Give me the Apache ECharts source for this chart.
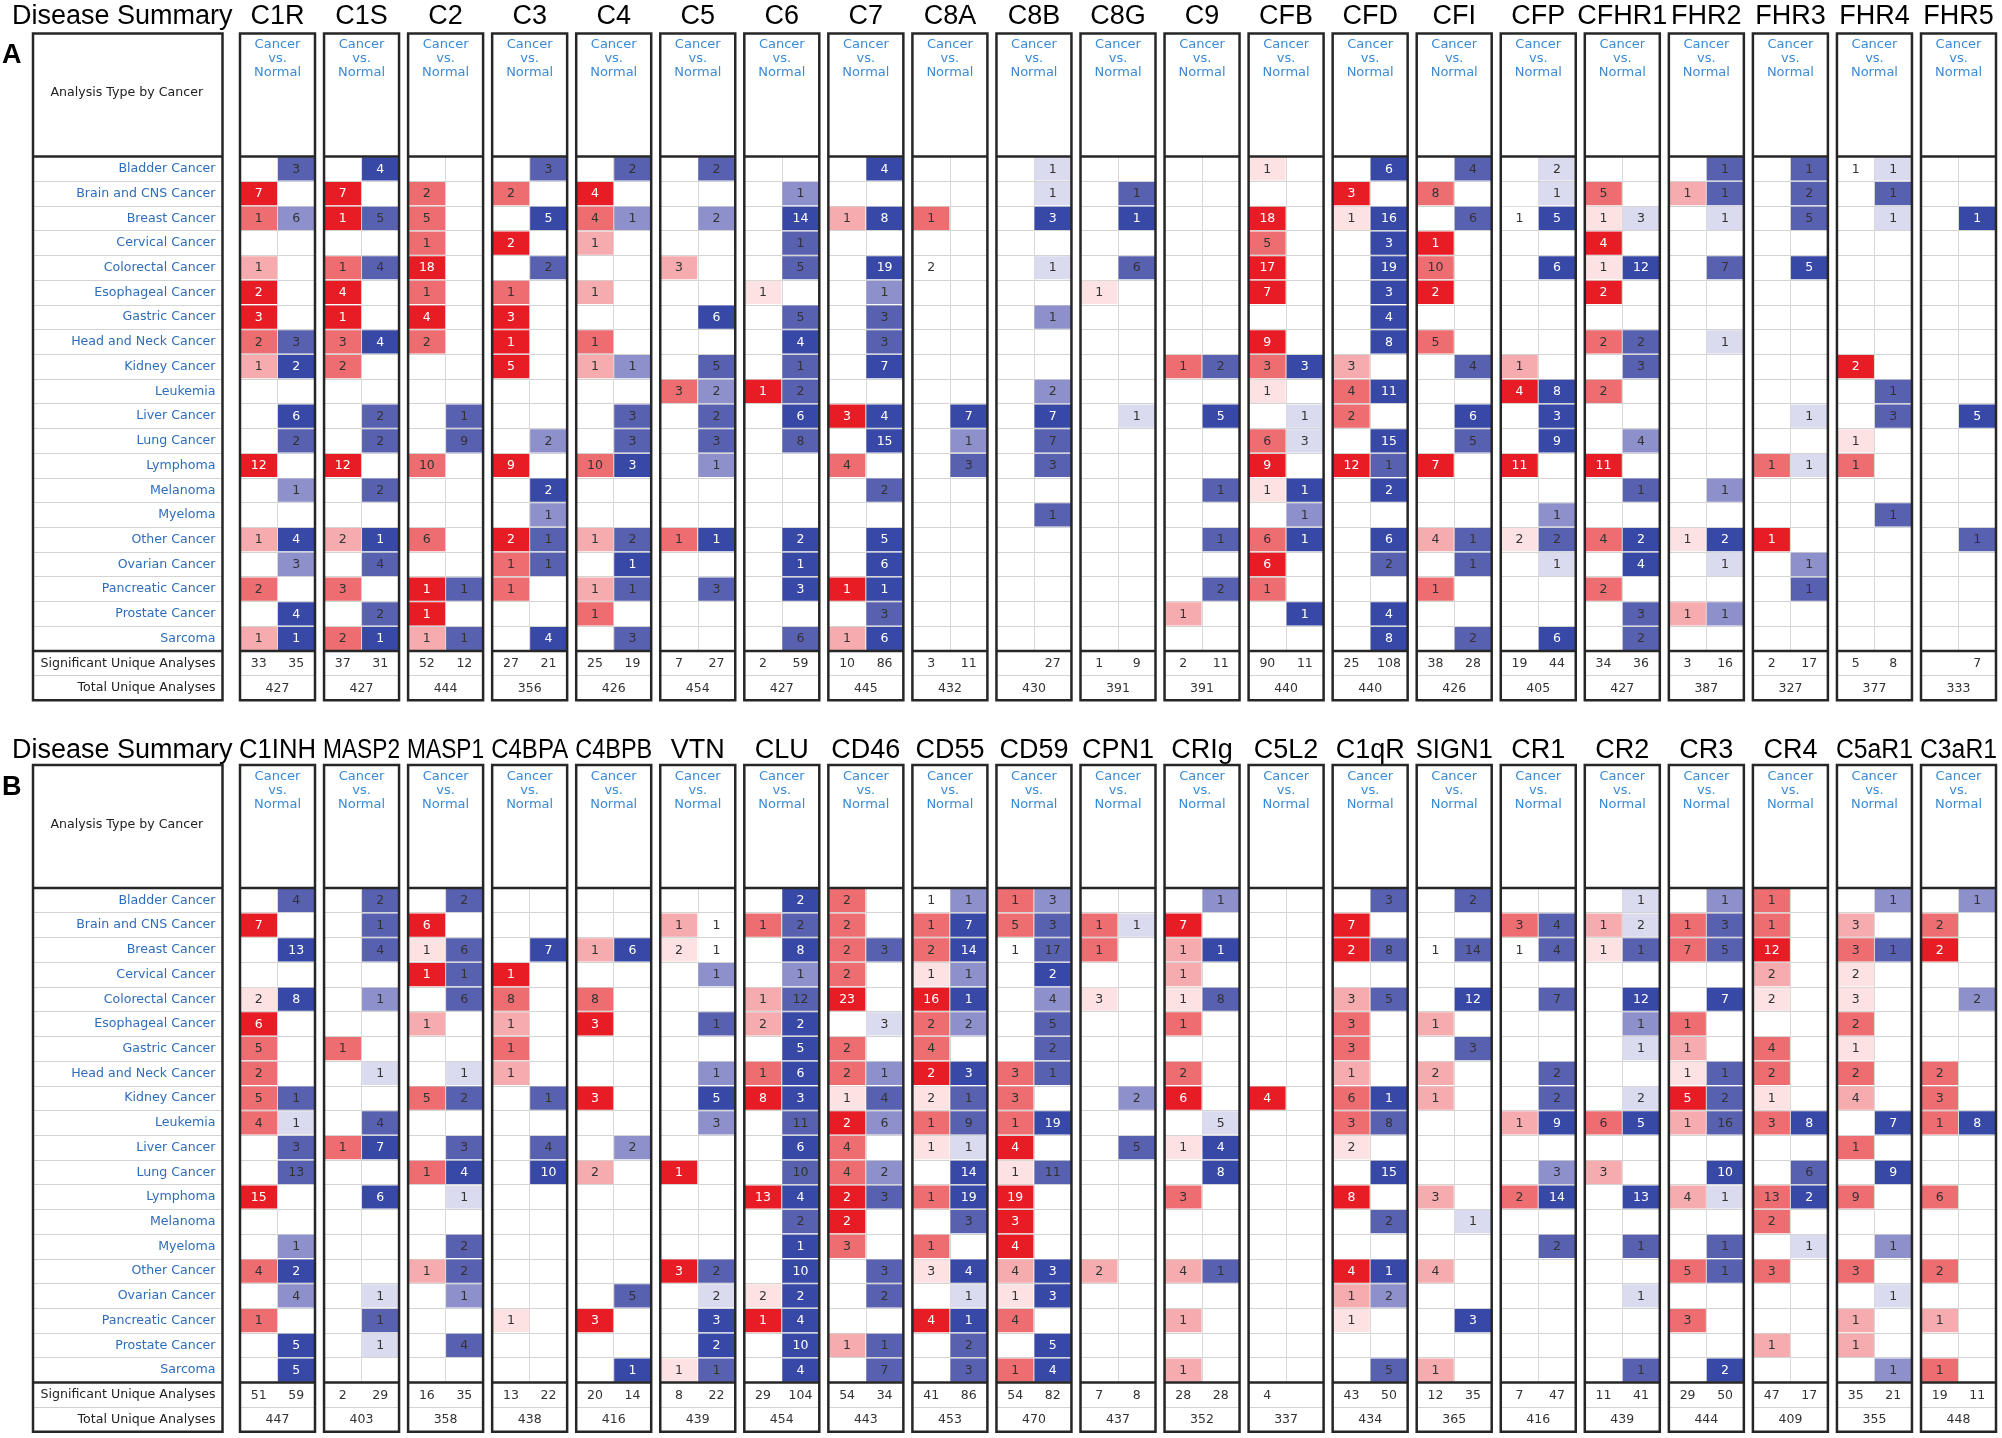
<!DOCTYPE html>
<html>
<head>
<meta charset="utf-8">
<title>Disease Summary</title>
<script src="https://cdn.jsdelivr.net/npm/echarts@6/dist/echarts.min.js"></script>
<style>
html, body { margin: 0; padding: 0; background: #fff; }
#chart { width: 2002px; height: 1438px; }
</style>
</head>
<body>
<div id="chart"></div>
<script>
// rows of both panels
var cancers = ['Bladder Cancer', 'Brain and CNS Cancer', 'Breast Cancer', 'Cervical Cancer', 'Colorectal Cancer',
    'Esophageal Cancer', 'Gastric Cancer', 'Head and Neck Cancer', 'Kidney Cancer', 'Leukemia',
    'Liver Cancer', 'Lung Cancer', 'Lymphoma', 'Melanoma', 'Myeloma',
    'Other Cancer', 'Ovarian Cancer', 'Pancreatic Cancer', 'Prostate Cancer', 'Sarcoma'];
var footerRows = ['Significant Unique Analyses', 'Total Unique Analyses'];

// cell tokens: "count:shade" (shade 0..4, 4 = strongest), "." = no analysis
//region panel A
var genesA = ['C1R', 'C1S', 'C2', 'C3', 'C4', 'C5', 'C6', 'C7', 'C8A', 'C8B', 'C8G',
    'C9', 'CFB', 'CFD', 'CFI', 'CFP', 'CFHR1', 'FHR2', 'FHR3', 'FHR4', 'FHR5'];
var upA = [
    '. 7:4 1:3 . 1:2 | 2:4 3:4 2:3 1:2 . | . . 12:4 . . | 1:2 . 2:3 . 1:2',
    '. 7:4 1:4 . 1:3 | 4:4 1:4 3:3 2:3 . | . . 12:4 . . | 2:2 . 3:3 . 2:3',
    '. 2:3 5:3 1:3 18:4 | 1:3 4:4 2:3 . . | . . 10:3 . . | 6:3 . 1:4 1:4 1:2',
    '. 2:3 . 2:4 . | 1:3 3:4 1:4 5:4 . | . . 9:4 . . | 2:4 1:3 1:3 . .',
    '. 4:4 4:3 1:2 . | 1:2 . 1:3 1:2 . | . . 10:3 . . | 1:2 . 1:2 1:3 .',
    '. . . . 3:2 | . . . . 3:3 | . . . . . | 1:3 . . . .',
    '. . . . . | 1:1 . . . 1:4 | . . . . . | . . . . .',
    '. . 1:2 . . | . . . . . | 3:4 . 4:3 . . | . . 1:4 . 1:2',
    '. . 1:3 . 2:0 | . . . . . | . . . . . | . . . . .',
    '. . . . . | . . . . . | . . . . . | . . . . .',
    '. . . . . | 1:1 . . . . | . . . . . | . . . . .',
    '. . . . . | . . . 1:3 . | . . . . . | . . . 1:2 .',
    '1:1 . 18:4 5:3 17:4 | 7:4 . 9:4 3:3 1:1 | . 6:3 9:4 1:1 . | 6:3 6:4 1:3 . .',
    '. 3:4 1:1 . . | . . . 3:2 4:3 | 2:3 . 12:4 . . | . . . . .',
    '. 8:3 . 1:4 10:3 | 2:4 . 5:3 . . | . . 7:4 . . | 4:2 . 1:3 . .',
    '. . 1:0 . . | . . . 1:2 4:4 | . . 11:4 . . | 2:1 . . . .',
    '. 5:3 1:1 4:4 1:1 | 2:4 . 2:3 . 2:3 | . . 11:4 . . | 4:3 . 2:3 . .',
    '. 1:2 . . . | . . . . . | . . . . . | 1:1 . . 1:2 .',
    '. . . . . | . . . . . | . . 1:3 . . | 1:4 . . . .',
    '1:0 . . . . | . . . 2:4 . | . 1:1 1:3 . . | . . . . .',
    '. . . . . | . . . . . | . . . . . | . . . . .'
];
var downA = [
    '3:3 . 6:2 . . | . . 3:3 2:4 . | 6:4 2:3 . 1:2 . | 4:4 3:2 . 4:4 1:4',
    '4:4 . 5:3 . 4:3 | . . 4:4 . . | 2:3 2:3 . 2:3 . | 1:4 4:3 . 2:3 1:4',
    '. . . . . | . . . . . | 1:3 9:3 . . . | . . 1:3 . 1:3',
    '3:3 . 5:4 . 2:3 | . . . . . | . 2:2 . 2:4 1:2 | 1:3 1:3 . . 4:4',
    '2:3 . 1:2 . . | . . . 1:2 . | 3:3 3:3 3:4 . . | 2:3 1:4 1:3 . 3:3',
    '2:3 . 2:2 . . | . 6:4 . 5:3 2:2 | 2:3 3:3 1:2 . . | 1:4 . 3:3 . .',
    '. 1:2 14:4 1:3 5:3 | . 5:3 4:4 1:3 2:3 | 6:4 8:3 . . . | 2:4 1:4 3:4 . 6:3',
    '4:4 . 8:4 . 19:4 | 1:2 3:3 3:3 7:4 . | 4:4 15:4 . 2:3 . | 5:4 6:4 1:4 3:3 6:4',
    '. . . . . | . . . . . | 7:4 1:2 3:3 . . | . . . . .',
    '1:1 1:1 3:4 . 1:1 | . 1:2 . . 2:2 | 7:4 7:3 3:3 . 1:3 | . . . . .',
    '. 1:3 1:4 . 6:3 | . . . . . | 1:1 . . . . | . . . . .',
    '. . . . . | . . . 2:3 . | 5:4 . . 1:3 . | 1:3 . 2:3 . .',
    '. . . . . | . . . 3:4 . | 1:1 3:1 . 1:4 1:2 | 1:4 . . 1:4 .',
    '6:4 . 16:4 3:4 19:4 | 3:4 4:4 8:4 . 11:4 | . 15:4 1:3 2:4 . | 6:4 2:3 . 4:4 8:4',
    '4:3 . 6:3 . . | . . . 4:3 . | 6:4 5:3 . . . | 1:3 1:3 . . 2:3',
    '2:1 1:1 5:4 . 6:4 | . . . . 8:4 | 3:4 9:4 . . 1:2 | 2:3 1:1 . . 6:4',
    '. . 3:1 . 12:4 | . . 2:3 3:3 . | . 4:2 . 1:3 . | 2:4 4:4 . 3:3 2:3',
    '1:3 1:3 1:1 . 7:3 | . . 1:1 . . | . . . 1:2 . | 2:4 1:1 . 1:2 .',
    '1:3 2:3 5:3 . 5:4 | . . . . . | 1:1 . 1:1 . . | . 1:2 1:3 . .',
    '1:1 1:3 1:1 . . | . . . . 1:3 | 3:3 . . . 1:3 | . . . . .',
    '. . 1:4 . . | . . . . . | 5:4 . . . . | 1:3 . . . .'
];
var sigUpA = [33, 37, 52, 27, 25, 7, 2, 10, 3, '', 1, 2, 90, 25, 38, 19, 34, 3, 2, 5, ''];
var sigDownA = [35, 31, 12, 21, 19, 27, 59, 86, 11, 27, 9, 11, 11, 108, 28, 44, 36, 16, 17, 8, 7];
var totalA = [427, 427, 444, 356, 426, 454, 427, 445, 432, 430, 391, 391, 440, 440, 426, 405, 427, 387, 327, 377, 333];
//endregion

//region panel B
var genesB = ['C1INH', 'MASP2', 'MASP1', 'C4BPA', 'C4BPB', 'VTN', 'CLU', 'CD46', 'CD55', 'CD59', 'CPN1',
    'CRIg', 'C5L2', 'C1qR', 'SIGN1', 'CR1', 'CR2', 'CR3', 'CR4', 'C5aR1', 'C3aR1'];
var upB = [
    '. 7:4 . . 2:1 | 6:4 5:3 2:3 5:3 4:3 | . . 15:4 . . | 4:3 . 1:3 . .',
    '. . . . . | . 1:3 . . . | 1:3 . . . . | . . . . .',
    '. 6:4 1:1 1:4 . | 1:2 . . 5:3 . | . 1:3 . . . | 1:2 . . . .',
    '. . . 1:4 8:3 | 1:2 1:3 1:2 . . | . . . . . | . . 1:1 . .',
    '. . 1:2 . 8:3 | 3:4 . . 3:4 . | . 2:2 . . . | . . 3:4 . .',
    '. 1:2 2:1 . . | . . . . . | . 1:4 . . . | 3:4 . . . 1:1',
    '. 1:3 . . 1:2 | 2:2 . 1:3 8:4 . | . . 13:4 . . | . 2:1 1:4 . .',
    '2:3 2:3 2:3 2:3 23:4 | . 2:3 2:3 1:1 2:4 | 4:3 4:3 2:4 2:4 3:3 | . . . 1:2 .',
    '1:0 1:3 2:3 1:1 16:4 | 2:3 4:3 2:4 2:1 1:3 | 1:1 . 1:3 . 1:3 | 3:1 . 4:4 . .',
    '1:3 5:3 1:0 . . | . . 3:3 3:3 1:3 | 4:4 1:1 19:4 3:4 4:4 | 4:2 1:1 4:3 . 1:3',
    '. 1:3 1:3 . 3:1 | . . . . . | . . . . . | 2:2 . . . .',
    '. 7:4 1:2 1:2 1:1 | 1:3 . 2:3 6:4 . | 1:1 . 3:3 . . | 4:2 . 1:2 . 1:2',
    '. . . . . | . . . 4:4 . | . . . . . | . . . . .',
    '. 7:4 2:4 . 3:2 | 3:3 3:3 1:2 6:3 3:3 | 2:1 . 8:4 . . | 4:4 1:2 1:1 . .',
    '. . 1:0 . . | 1:2 . 2:2 1:2 . | . . 3:2 . . | 4:2 . . . 1:2',
    '. 3:3 1:0 . . | . . . . 1:2 | . . 2:3 . . | . . . . .',
    '. 1:2 1:1 . . | . . . . 6:3 | . 3:2 . . . | . . . . .',
    '. 1:3 7:3 . . | 1:3 1:2 1:1 5:4 1:2 | . . 4:2 . . | 5:3 . 3:3 . .',
    '1:3 1:3 12:4 2:2 2:1 | . 4:3 2:3 1:1 3:3 | . . 13:3 2:3 . | 3:3 . . 1:2 .',
    '. 3:2 3:3 2:1 3:1 | 2:3 1:1 2:3 4:2 . | 1:3 . 9:3 . . | 3:3 . 1:2 1:2 .',
    '. 2:3 2:4 . . | . . 2:3 3:3 1:3 | . . 6:3 . . | 2:3 . 1:2 . 1:3'
];
var downB = [
    '4:3 . 13:4 . 8:4 | . . . 1:3 1:1 | 3:3 13:3 . . 1:2 | 2:4 4:2 . 5:4 5:4',
    '2:3 1:3 4:3 . 1:2 | . . 1:1 . 4:3 | 7:4 . 6:4 . . | . 1:1 1:3 1:1 .',
    '2:3 . 6:3 1:3 6:3 | . . 1:1 2:3 . | 3:3 4:4 1:1 . 2:3 | 2:3 1:2 . 4:3 .',
    '. . 7:4 . . | . . . 1:3 . | 4:3 10:4 . . . | . . . . .',
    '. . 6:4 . . | . . . . . | 2:2 . . . . | . 5:3 . . 1:4',
    '. 1:0 1:0 1:2 . | 1:3 . 1:2 5:4 3:2 | . . . . . | 2:3 2:1 3:4 2:4 1:3',
    '2:4 2:3 8:4 1:2 12:3 | 2:4 5:4 6:4 3:4 11:3 | 6:4 10:3 4:4 2:3 1:4 | 10:4 2:4 4:4 10:4 4:4',
    '. . 3:3 . . | 3:1 . 1:2 4:3 6:2 | . 2:2 3:3 . . | 3:3 2:3 . 1:3 7:3',
    '1:2 7:4 14:4 1:2 1:4 | 2:2 . 3:4 1:3 9:3 | 1:1 14:4 19:4 3:3 . | 4:4 1:1 1:4 2:3 3:3',
    '3:2 3:3 17:3 2:4 4:2 | 5:3 2:3 1:3 . 19:4 | . 11:3 . . . | 3:4 3:4 . 5:4 4:4',
    '. 1:1 . . . | . . . 2:2 . | 5:3 . . . . | . . . . .',
    '1:2 . 1:4 . 8:3 | . . . . 5:1 | 4:4 8:4 . . . | 1:3 . . . .',
    '. . . . . | . . . . . | . . . . . | . . . . .',
    '3:3 . 8:3 . 5:3 | . . . 1:4 8:3 | . 15:4 . 2:3 . | 1:4 2:2 . . 5:3',
    '2:3 . 14:3 . 12:4 | . 3:3 . . . | . . . 1:1 . | . . 3:4 . .',
    '. 4:3 4:3 . 7:3 | . . 2:3 2:3 9:4 | . 3:2 14:4 . 2:3 | . . . . .',
    '1:1 2:1 1:3 . 12:4 | 1:2 1:1 . 2:1 5:4 | . . 13:4 . 1:3 | . 1:1 . . 1:3',
    '1:2 3:3 5:3 . 7:4 | . . 1:3 2:3 16:3 | . 10:4 1:1 . 1:3 | 1:3 . . . 2:4',
    '. . . . . | . . . . 8:4 | . 6:3 2:4 . 1:1 | . . . . .',
    '1:2 . 1:3 . . | . . . . 7:4 | . 9:4 . . 1:2 | . 1:1 . . 1:2',
    '1:2 . . . 2:2 | . . . . 8:4 | . . . . . | . . . . .'
];
var sigUpB = [51, 2, 16, 13, 20, 8, 29, 54, 41, 54, 7, 28, 4, 43, 12, 7, 11, 29, 47, 35, 19];
var sigDownB = [59, 29, 35, 22, 14, 22, 104, 34, 86, 82, 8, 28, '', 50, 35, 47, 41, 50, 17, 21, 11];
var totalB = [447, 403, 358, 438, 416, 439, 454, 443, 453, 470, 437, 352, 337, 434, 365, 416, 439, 444, 409, 355, 448];
//endregion

// layout
var LEFT0 = 240, PITCH = 84.05, COLW = 75;
var LABEL_L = 33, LABEL_W = 189.5;
var HEAD_T = 33.5, HEAD_B = 156.5, ROW_H = 24.72;
var PANEL_DY = [0, 731.5];
var TITLE_Y = [16.5, 750.5];
var NAME_FIT = [90, 77];

var redShade = ['#ffffff', '#fce2e2', '#f6acae', '#ee6d70', '#e81c25'];
var blueShade = ['#ffffff', '#dadbef', '#8d90ca', '#5860b0', '#3748a6'];
var TXT = '"DejaVu Sans", sans-serif';
var TITLE_FONT = '"Liberation Sans", Arial, sans-serif';
var BORDER = '#262626';

function tokens(s) {
    return s.split(/\s+/).filter(function (t) { return t && t !== '|'; });
}

function cellData(up, down) {
    var out = [];
    [up, down].forEach(function (s, side) {
        tokens(s).forEach(function (t, row) {
            if (t === '.') return;
            var p = t.split(':');
            out.push([side, row, +p[0], +p[1]]);
        });
    });
    return out;
}

function renderCell(params, api) {
    var side = api.value(0), row = api.value(1), n = api.value(2), shade = api.value(3);
    var a = api.coord([side, row]);
    var b = api.coord([side + 1, row]);
    var h = api.size([1, 1])[1];
    var fill = (side === 0 ? redShade : blueShade)[shade];
    return {
        type: 'group',
        children: [{
            type: 'rect',
            shape: { x: a[0] + 0.5, y: a[1] - h / 2 + 0.75, width: b[0] - a[0] - 1, height: h - 1.5 },
            style: { fill: fill }
        }, {
            type: 'text',
            style: {
                x: (a[0] + b[0]) / 2, y: a[1] + 0.5, text: String(n),
                align: 'center', verticalAlign: 'middle', textAlign: 'center', textVerticalAlign: 'middle',
                fill: shade === 4 ? '#ffffff' : '#333333', font: '12.5px ' + TXT
            }
        }]
    };
}

function renderFoot(params, api) {
    var p = api.coord([api.value(0), api.value(1)]);
    return {
        type: 'text',
        style: {
            x: p[0], y: p[1] + 0.5, text: String(api.value(2)),
            align: 'center', verticalAlign: 'middle', textAlign: 'center', textVerticalAlign: 'middle',
            fill: '#333333', font: '12.5px ' + TXT
        }
    };
}

var measureCtx = document.createElement('canvas').getContext('2d');
measureCtx.font = '27px ' + TITLE_FONT;

var grids = [], xAxes = [], yAxes = [], series = [], graphics = [];

function hiddenCategory(gi, data, split) {
    return {
        gridIndex: gi, type: 'category', data: data, inverse: true,
        axisLine: { show: false }, axisTick: { show: false }, axisLabel: { show: false },
        splitLine: { show: split, interval: 0, lineStyle: { color: '#d3d3d3', width: 1 } }
    };
}

function boxGraphics(left, width, dy) {
    var top = dy + HEAD_T, bottom = dy + HEAD_B + 22 * ROW_H;
    graphics.push({
        type: 'rect', z: 100, silent: true,
        shape: { x: left, y: top, width: width, height: bottom - top },
        style: { fill: 'none', stroke: BORDER, lineWidth: 2.5 }
    });
    [HEAD_B, HEAD_B + 20 * ROW_H].forEach(function (yy) {
        graphics.push({
            type: 'line', z: 100, silent: true,
            shape: { x1: left, y1: dy + yy, x2: left + width, y2: dy + yy },
            style: { stroke: BORDER, lineWidth: 2.5 }
        });
    });
}

function addPanel(p, genes, up, down, sigUp, sigDown, total) {
    var dy = PANEL_DY[p];

    graphics.push({
        type: 'text', x: 2, y: dy + 56,
        style: { text: p === 0 ? 'A' : 'B', font: 'bold 27px ' + TITLE_FONT, fill: '#000',
            align: 'left', verticalAlign: 'middle', textAlign: 'left', textVerticalAlign: 'middle' }
    });
    graphics.push({
        type: 'text', x: 12, y: TITLE_Y[p],
        style: { text: 'Disease Summary', font: '27px ' + TITLE_FONT, fill: '#000',
            align: 'left', verticalAlign: 'middle', textAlign: 'left', textVerticalAlign: 'middle' }
    });

    // label column
    var gi = grids.length;
    grids.push({ left: LABEL_L, top: dy + HEAD_B, width: LABEL_W, height: 20 * ROW_H, outerBoundsMode: 'none' });
    xAxes.push({ gridIndex: gi, type: 'value', show: false, min: 0, max: 1 });
    yAxes.push({
        gridIndex: gi, type: 'category', data: cancers, inverse: true, position: 'right',
        axisLine: { show: false }, axisTick: { show: false },
        axisLabel: { inside: true, margin: 7, color: '#2f6dbb', fontSize: 12.6, fontFamily: TXT },
        splitLine: { show: true, interval: 0, lineStyle: { color: '#d3d3d3' } }
    });
    gi = grids.length;
    grids.push({ left: LABEL_L, top: dy + HEAD_B + 20 * ROW_H, width: LABEL_W, height: 2 * ROW_H, outerBoundsMode: 'none' });
    xAxes.push({ gridIndex: gi, type: 'value', show: false, min: 0, max: 1 });
    yAxes.push({
        gridIndex: gi, type: 'category', data: footerRows, inverse: true, position: 'right',
        axisLine: { show: false }, axisTick: { show: false },
        axisLabel: { inside: true, margin: 7, color: '#222222', fontSize: 12.6, fontFamily: TXT },
        splitLine: { show: true, interval: 0, lineStyle: { color: '#cfcfcf' } }
    });
    boxGraphics(LABEL_L, LABEL_W, dy);
    graphics.push({
        type: 'text', x: LABEL_L + LABEL_W / 2 - 1, y: dy + 93,
        style: { text: 'Analysis Type by Cancer', font: '12.6px ' + TXT, fill: '#222',
            align: 'center', verticalAlign: 'middle', textAlign: 'center', textVerticalAlign: 'middle' }
    });

    genes.forEach(function (name, g) {
        var left = LEFT0 + g * PITCH;
        var cx = left + COLW / 2;

        // data cells
        var gd = grids.length;
        grids.push({ left: left, top: dy + HEAD_B, width: COLW, height: 20 * ROW_H, outerBoundsMode: 'none' });
        xAxes.push({
            gridIndex: gd, type: 'value', min: 0, max: 2, interval: 1,
            axisLine: { show: false }, axisTick: { show: false }, axisLabel: { show: false },
            splitLine: { show: true, lineStyle: { color: '#d9d9d9' } }
        });
        yAxes.push(hiddenCategory(gd, cancers, true));
        series.push({
            type: 'custom', xAxisIndex: gd, yAxisIndex: gd,
            renderItem: renderCell, data: cellData(up[g], down[g])
        });

        // footer counts
        var gf = grids.length;
        grids.push({ left: left, top: dy + HEAD_B + 20 * ROW_H, width: COLW, height: 2 * ROW_H, outerBoundsMode: 'none' });
        xAxes.push({ gridIndex: gf, type: 'value', min: 0, max: 2, show: false });
        yAxes.push(hiddenCategory(gf, footerRows, true));
        var foot = [];
        if (sigUp[g] !== '') foot.push([0.5, 0, sigUp[g]]);
        if (sigDown[g] !== '') foot.push([1.5, 0, sigDown[g]]);
        foot.push([1, 1, total[g]]);
        series.push({
            type: 'custom', xAxisIndex: gf, yAxisIndex: gf,
            renderItem: renderFoot, data: foot
        });

        boxGraphics(left, COLW, dy);

        var w = measureCtx.measureText(name).width;
        graphics.push({
            type: 'text', x: cx, y: TITLE_Y[p], scaleX: Math.min(1, NAME_FIT[p] / w),
            style: { text: name, font: '27px ' + TITLE_FONT, fill: '#000',
                align: 'center', verticalAlign: 'middle', textAlign: 'center', textVerticalAlign: 'middle' }
        });
        graphics.push({
            type: 'text', x: cx, y: dy + 37.7,
            style: { text: 'Cancer\nvs.\nNormal', font: '13px ' + TXT, fill: '#3b8ad4', lineHeight: 14,
                align: 'center', verticalAlign: 'top', textAlign: 'center', textVerticalAlign: 'top' }
        });
    });
}

addPanel(0, genesA, upA, downA, sigUpA, sigDownA, totalA);
addPanel(1, genesB, upB, downB, sigUpB, sigDownB, totalB);

var chart = echarts.init(document.getElementById('chart'), null, { renderer: 'canvas' });
chart.setOption({
    backgroundColor: '#ffffff',
    animation: false,
    grid: grids,
    xAxis: xAxes,
    yAxis: yAxes,
    series: series,
    graphic: { elements: graphics }
});
</script>
</body>
</html>
